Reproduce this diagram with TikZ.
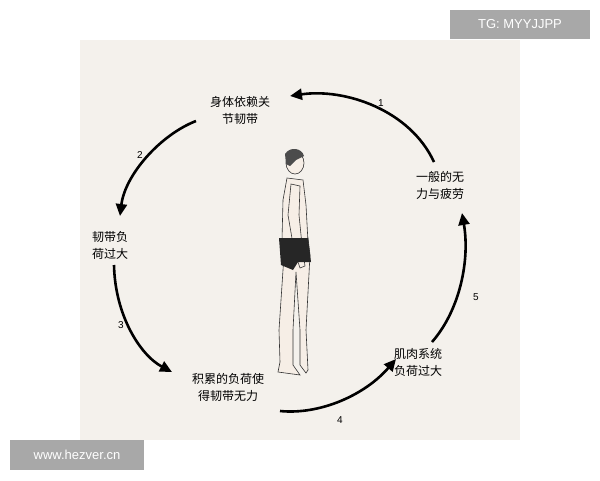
\documentclass[tikz,border=0pt]{standalone}
\usepackage{fontspec}
\setmainfont{Liberation Sans}
\newfontfamily\cjk{Noto Sans CJK SC}
\usetikzlibrary{arrows.meta}
\definecolor{paper}{HTML}{F4F1EC}
\definecolor{wm}{HTML}{A8A8A8}
\definecolor{skin}{HTML}{F6EEE6}
\begin{document}
\begin{tikzpicture}[x=1pt,y=-1pt,
  lbl/.style={font=\cjk\fontsize{12}{17}\selectfont,align=center,inner sep=0pt},
  num/.style={font=\fontsize{10}{12}\selectfont,inner sep=0pt},
  cyc/.style={line width=2.6pt,-{Triangle[length=12pt,width=11pt]}},
  wmbox/.style={fill=wm,text=white,font=\fontsize{13}{15}\selectfont,inner sep=0pt}]
\useasboundingbox (0,0) rectangle (600,480);
\fill[white] (0,0) rectangle (600,480);
\fill[paper] (80,40) rectangle (520,440);
\node[wmbox,minimum width=140,minimum height=29] (tg) at (520,24) {TG: MYYJJPP};
\node[wmbox,minimum width=134,minimum height=30] (www) at (77,455) {www.hezver.cn};

\node[lbl] (a) at (240,110) {身体依赖关\\节韧带};
\node[lbl] (b) at (440,185) {一般的无\\力与疲劳};
\node[lbl] (c) at (418,362) {肌肉系统\\负荷过大};
\node[lbl] (d) at (228,387) {积累的负荷使\\得韧带无力};
\node[lbl] (e) at (110,245) {韧带负\\荷过大};
\node[num] (n1) at (381,103) {1};
\node[num] (n2) at (140,155) {2};
\node[num] (n3) at (121,325) {3};
\node[num] (n4) at (340,420) {4};
\node[num] (n5) at (476,297) {5};

\coordinate (s1) at (434,162); \coordinate (t1) at (290,96);
\coordinate (s2) at (196,121); \coordinate (t2) at (120,216);
\coordinate (s3) at (114,265); \coordinate (t3) at (172,372);
\coordinate (s4) at (280,411); \coordinate (t4) at (396,359);
\coordinate (s5) at (432,342); \coordinate (t5) at (462,213);
\draw[cyc] (s1) .. controls (410,110) and (345,88) .. (t1);
\draw[cyc] (s2) .. controls (160,135) and (125,175) .. (t2);
\draw[cyc] (s3) .. controls (115,315) and (140,355) .. (t3);
\draw[cyc] (s4) .. controls (320,415) and (365,395) .. (t4);
\draw[cyc] (s5) .. controls (460,310) and (470,260) .. (t5);

% simple standing figure
\begin{scope}[draw=black!80,line width=0.6pt,fill=skin]
\filldraw (284,238) -- (284,255) -- (279,330) -- (280,362) -- (278,372) -- (300,375) -- (293,365) -- (293,330) -- (296,272) -- (300,330) -- (300,365) -- (306,373) -- (308,370) -- (306,330) -- (310,255) -- (308,238) -- cycle;
\filldraw (287,178) -- (283,200) -- (282,240) -- (308,242) -- (306,205) -- (303,180) -- cycle;
\filldraw (291,184) -- (288,215) -- (294,250) -- (300,268) -- (305,266) -- (302,245) -- (299,215) -- (300,186) -- cycle;
\filldraw (295,163) ellipse (9 and 11);
\end{scope}
\fill[black!85] (279,238) -- (308,238) -- (311,262) -- (298,262) -- (293,270) -- (281,265) -- cycle;
\fill[black!70] (285,154) .. controls (290,146) and (302,148) .. (304,156) -- (296,160) -- (290,166) -- (286,164) -- cycle;
\end{tikzpicture}
\end{document}
